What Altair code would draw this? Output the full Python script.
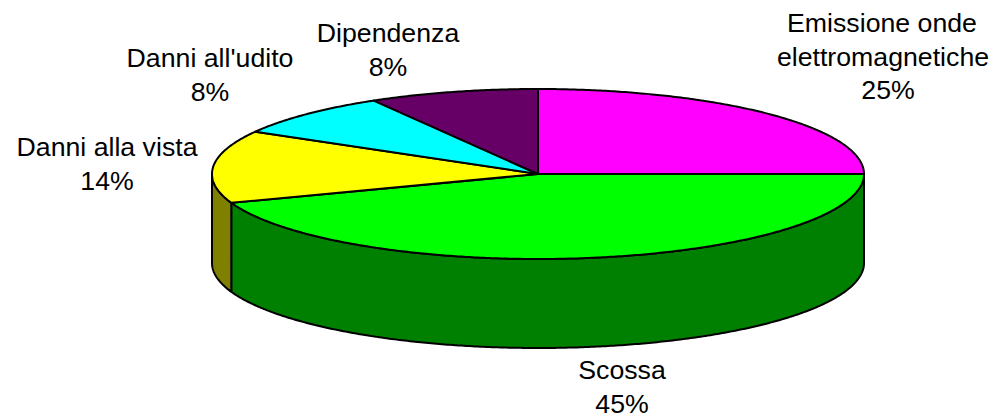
import math
import altair as alt
import pandas as pd

names = ["Emissione onde elettromagnetiche", "Scossa", "Danni alla vista", "Danni all'udito", "Dipendenza"]
shares = [25.0, 44.5, 13.8, 8.3, 8.4]
top_colors = ["#FF00FF", "#00FF00", "#FFFF00", "#00FFFF", "#660066"]
side_colors = ["#800080", "#008000", "#808000", "#008080", "#330033"]

label_lines = ["Emissione onde", "elettromagnetiche", "25%", "Dipendenza", "8%",
               "Danni all'udito", "8%", "Danni alla vista", "14%", "Scossa", "45%"]
label_x = [882, 883, 888, 388, 388, 210, 210, 107, 107, 622, 622]
label_y = [24, 58, 91, 34, 68, 59, 93, 148, 182, 371, 405]

W, H = 985, 400
CX, CY, RX, RY, DEPTH = 538, 174, 326, 85, 89


def pt(theta_deg, dy=0):
    t = math.radians(theta_deg)
    return CX + RX * math.sin(t), CY - RY * math.cos(t) + dy


def sweep(a, b):
    n = max(2, int(abs(b - a) * 2))
    return [a + (b - a) * i / n for i in range(n + 1)]


rows = []
poly = 0


def add(points, color):
    global poly
    for i, (x, y) in enumerate(points):
        rows.append({"x": x, "y": y, "poly": poly, "i": i, "color": color})
    poly += 1


start = 0.0
slices = []
for s, tc, sc in zip(shares, top_colors, side_colors):
    end = start + s * 3.6
    slices.append((start, end, tc, sc))
    start = end

# visible side walls (front half of the disc)
for a, b, tc, sc in slices:
    lo, hi = max(a, 90), min(b, 270)
    if lo < hi:
        arc = sweep(lo, hi)
        add([pt(t) for t in arc] + [pt(t, DEPTH) for t in reversed(arc)], sc)

# top faces
for a, b, tc, sc in slices:
    add([(CX, CY)] + [pt(t) for t in sweep(a, b)], tc)

df = pd.DataFrame(rows)
xs = alt.Scale(domain=[8, 8 + W], nice=False, zero=False)
ys = alt.Scale(domain=[8 + H, 8], nice=False, zero=False)

shapes = alt.Chart(df).mark_line(
    interpolate="linear-closed", stroke="black", strokeWidth=2, strokeJoin="round", clip=False
).encode(
    x=alt.X("x:Q", scale=xs, axis=None),
    y=alt.Y("y:Q", scale=ys, axis=None),
    detail="poly:N",
    order="i:Q",
    fill=alt.Fill("color:N", scale=None),
)

labels = pd.DataFrame({"x": label_x, "y": label_y, "t": label_lines})
text = alt.Chart(labels).mark_text(
    font="Liberation Sans", fontSize=26.7, color="black", align="center", baseline="middle"
).encode(
    x=alt.X("x:Q", scale=xs, axis=None),
    y=alt.Y("y:Q", scale=ys, axis=None),
    text="t:N",
)

chart = alt.layer(shapes, text).properties(
    width=W, height=H, padding=0, background="white"
).configure_view(stroke=None)

chart.save("out.html", embed_options={"renderer": "svg", "actions": False})
